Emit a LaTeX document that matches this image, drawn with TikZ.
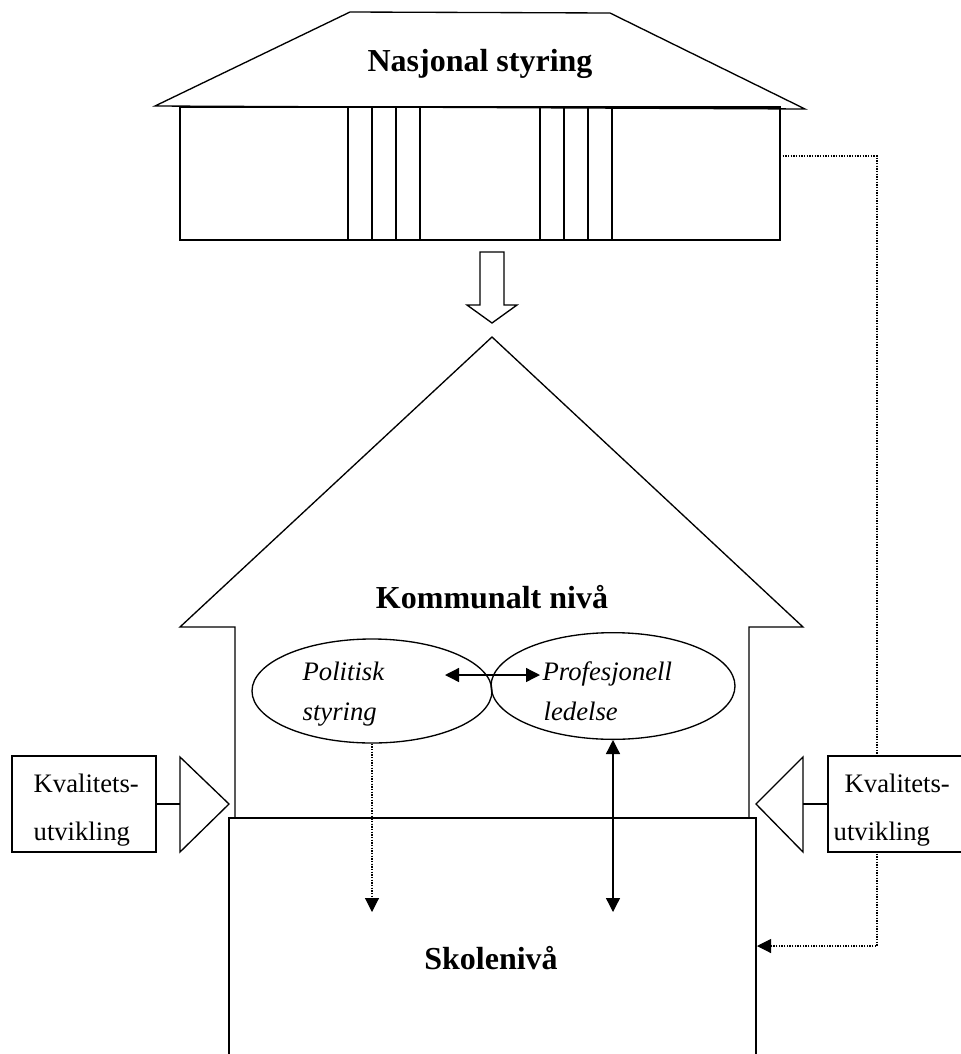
\documentclass[tikz,border=0pt]{standalone}
\usepackage{fontspec}
\setmainfont{Liberation Serif}
\usetikzlibrary{arrows.meta,shapes.geometric,positioning}

\begin{document}
\begin{tikzpicture}[x=0.75pt,y=-0.75pt,line width=1pt,
  every node/.style={inner sep=0pt},
  level/.style={font=\fontsize{24}{28}\selectfont\bfseries, anchor=base},
  role/.style={font=\fontsize{20}{24}\selectfont\itshape, anchor=base west},
  ktext/.style={font=\fontsize{20}{24}\selectfont, anchor=base west},
  kval/.style={draw, fill=white, minimum width=108pt, minimum height=72pt},
  oval/.style={draw, ellipse},
  tip/.style={-{Triangle[width=10.5pt,length=10.5pt]}},
  tips/.style={{Triangle[width=10.5pt,length=10.5pt]}-{Triangle[width=10.5pt,length=10.5pt]}},
  dots/.style={dash pattern=on 1pt off 1pt, line width=0.8pt}]
  \useasboundingbox (0,0) rectangle (961,1054);

  % nasjonalt hus
  \draw (155,106) -- (350,12) -- (610,13) -- (805,109) -- cycle;
  \draw (180,107) rectangle (780,240);
  \foreach \x in {348,372,396,420,540,564,588,612}
    \draw (\x,107) -- (\x,240);
  \node[level] (nasjonal) at (480,71) {Nasjonal styring};

  % blokkpil ned
  \draw (480,252) -- (504,252) -- (504,305) -- (517,305) -- (492,323)
    -- (467,305) -- (480,305) -- cycle;

  % kommunalt hus og skole
  \draw (235,818) -- (235,627) -- (180,627) -- (492,337) -- (803,627)
    -- (749,627) -- (749,818);
  \draw (229,1060) -- (229,818) -- (756,818) -- (756,1060);
  \node[level] (kommune) at (492,608) {Kommunalt nivå};
  \node[level] (skole) at (491,969) {Skolenivå};

  \node[oval, minimum width=180pt, minimum height=78pt] (pol) at (372,691) {};
  \node[oval, minimum width=183pt, minimum height=80pt] (prof) at (613,686) {};
  \node[role] (politisk) at (302,680) {Politisk};
  \node[role] (styring) at (302,720) {styring};
  \node[role] (profesjonell) at (542,680) {Profesjonell};
  \node[role] (ledelse) at (543,720) {ledelse};

  \coordinate (polR) at (445,675);
  \coordinate (profL) at (540,675);
  \coordinate (polEnd) at (372,912);
  \coordinate (profEnd) at (613,912);
  \draw[tips] (polR) -- (profL);
  \draw[dots, tip] (pol.south) -- (polEnd);
  \draw[tips] (prof.south) -- (profEnd);

  % tilbakemelding
  \coordinate (natR) at (780,156);
  \coordinate (skoleR) at (757,946);
  \draw[dots, tip] (natR) -- ++(97,0) |- (skoleR);

  % kvalitetsutvikling
  \draw (180,757) -- (180,852) -- (229,804) -- cycle;
  \draw (803,757) -- (803,852) -- (756,804) -- cycle;
  \node[kval] (kvalL) at (84,804) {};
  \node[kval] (kvalR) at (900,804) {};
  \node[ktext] at (33,792) {Kvalitets-};
  \node[ktext] at (33,840) {utvikling};
  \node[ktext] at (844,792) {Kvalitets-};
  \node[ktext] at (833,840) {utvikling};
  \coordinate (triL) at (180,804);
  \coordinate (triR) at (803,804);
  \draw[line width=2pt] (kvalL.east |- triL) -- (triL);
  \draw[line width=2pt] (kvalR.west |- triR) -- (triR);
\end{tikzpicture}
\end{document}
